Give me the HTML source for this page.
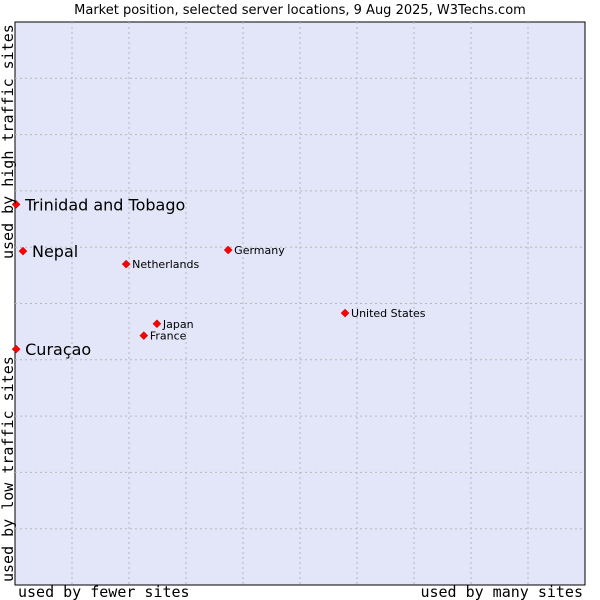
<!DOCTYPE html>
<html><head><meta charset="utf-8"><style>
body{margin:0;background:#fff;}
svg{display:block;}
</style></head><body>
<svg id="chart" width="600" height="600" xmlns="http://www.w3.org/2000/svg">
<text x="300" y="14" text-anchor="middle" font-family="DejaVu Sans, sans-serif" font-size="13" fill="#000">Market position, selected server locations, 9 Aug 2025, W3Techs.com</text>
<rect x="15" y="22" width="570" height="563" fill="#e3e5f8" stroke="#000" stroke-width="1"/>
<g id="grid"></g>
<g id="points"></g>
<text x="18" y="597" font-family="DejaVu Sans Mono, monospace" font-size="15" fill="#000">used by fewer sites</text>
<text x="583" y="597" text-anchor="end" font-family="DejaVu Sans Mono, monospace" font-size="15" fill="#000">used by many sites</text>
<text transform="translate(13,582) rotate(-90)" font-family="DejaVu Sans Mono, monospace" font-size="15" fill="#000">used by low traffic sites</text>
<text transform="translate(13,259) rotate(-90)" font-family="DejaVu Sans Mono, monospace" font-size="15" fill="#000">used by high traffic sites</text>
</svg>
<script>
const names = ["Trinidad and Tobago","Nepal","Curaçao","Netherlands","Germany","United States","Japan","France"];
const xValues = [0.2,1.4,0.2,19.5,37.4,57.9,24.9,22.6];
const yValues = [67.6,59.3,41.9,57.0,59.5,48.3,46.4,44.3];
const bigLabel = [true,true,true,false,false,false,false,false];
const gridTicks = [1,2,3,4,5,6,7,8,9];
const NS="http://www.w3.org/2000/svg";
const L=15,T=22,W=570,H=563;
function xs(v){return L+v/100*W;}
function ys(v){return T+H-v/100*H;}
const grid=document.getElementById('grid');
gridTicks.forEach(t=>{
  const v=document.createElementNS(NS,'line');
  
  
  v.setAttribute('x1',xs(t*10));v.setAttribute('x2',xs(t*10));
  v.setAttribute('y1',T);v.setAttribute('y2',T+H);
  v.setAttribute('stroke','#b8b8b8');v.setAttribute('stroke-dasharray','2,3');
  grid.appendChild(v);
  const h=document.createElementNS(NS,'line');
  
  
  h.setAttribute('y1',ys(t*10));h.setAttribute('y2',ys(t*10));
  h.setAttribute('x1',L);h.setAttribute('x2',L+W);
  h.setAttribute('stroke','#b8b8b8');h.setAttribute('stroke-dasharray','2,3');
  grid.appendChild(h);
});
const pts=document.getElementById('points');
names.forEach((n,i)=>{
  const x=xs(xValues[i]),y=ys(yValues[i]);
  const d=document.createElementNS(NS,'path');
  
  
  d.setAttribute('d',`M${x} ${y-4}L${x+4} ${y}L${x} ${y+4}L${x-4} ${y}Z`);
  d.setAttribute('fill','#ff0000');d.setAttribute('stroke','#b00000');d.setAttribute('stroke-width','0.5');
  pts.appendChild(d);
  const t=document.createElementNS(NS,'text');
  
  
  const big=bigLabel[i];
  t.setAttribute('x',x+(big?9:6));
  t.setAttribute('y',y+(big?6:4));
  t.setAttribute('font-family','DejaVu Sans, sans-serif');
  t.setAttribute('font-size',big?'16':'11');
  t.setAttribute('fill','#000');
  t.textContent=n;
  pts.appendChild(t);
});
</script>
</body></html>
